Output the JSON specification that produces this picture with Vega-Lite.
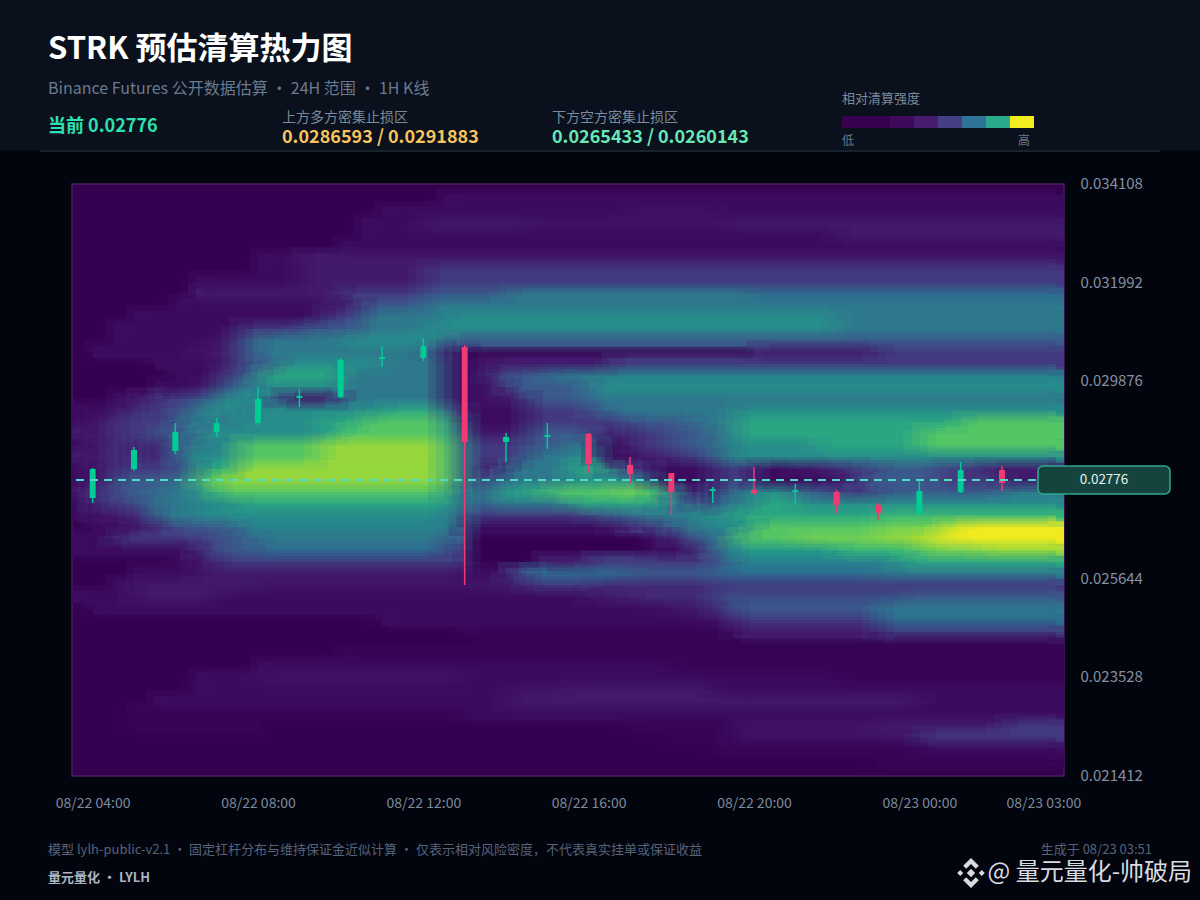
{"$schema":"https://vega.github.io/schema/vega-lite/v6.json","width":992,"height":592,"autosize":{"type":"none"},"padding":{"left":72,"top":184,"right":136,"bottom":124},"background":"#03050e","view":{"fill":"#35004f","stroke":"#43205f","strokeWidth":1.5},"config":{"font":"Noto Sans CJK SC","text":{"font":"Noto Sans CJK SC"}},"title":{"text":"STRK 预估清算热力图","subtitle":"Binance Futures 公开数据估算  ·  24H 范围  ·  1H K线","anchor":"start","frame":"group","dx":-24,"offset":-98,"fontSize":31,"fontWeight":"bold","color":"#ffffff","font":"Noto Sans CJK SC","subtitleFont":"Noto Sans CJK SC","subtitleFontSize":16,"subtitleColor":"#6b7a8f","subtitlePadding":15},"datasets":{"heat":[
{"a":8.5,"b":23.5,"p":0.03375,"v":1},
{"a":7,"b":13,"p":0.0335,"v":1},{"a":13,"b":15,"p":0.0335,"v":1.5},{"a":15,"b":23.5,"p":0.0335,"v":1},
{"a":6.5,"b":8,"p":0.03325,"v":1},{"a":8,"b":10.5,"p":0.03325,"v":2},{"a":10.5,"b":15.5,"p":0.03325,"v":1.5},{"a":15.5,"b":23.5,"p":0.03325,"v":2},
{"a":6.5,"b":18,"p":0.033,"v":1},{"a":18,"b":23.5,"p":0.033,"v":2},
{"a":6,"b":23.5,"p":0.03275,"v":1},
{"a":4,"b":5,"p":0.0325,"v":1},{"a":5,"b":23.5,"p":0.0325,"v":2},
{"a":4,"b":5,"p":0.03225,"v":1},{"a":5,"b":8,"p":0.03225,"v":2},{"a":8,"b":23.5,"p":0.03225,"v":3},
{"a":2.5,"b":5,"p":0.032,"v":1},{"a":5,"b":8,"p":0.032,"v":2},{"a":8,"b":23.5,"p":0.032,"v":3},
{"a":2.5,"b":6,"p":0.03175,"v":2},{"a":6,"b":8,"p":0.03175,"v":3},{"a":8,"b":10,"p":0.03175,"v":4},{"a":10,"b":16,"p":0.03175,"v":5},{"a":16,"b":23.5,"p":0.03175,"v":4.5},
{"a":2,"b":5.5,"p":0.0315,"v":1},{"a":5.5,"b":6.5,"p":0.0315,"v":2},{"a":6.5,"b":8,"p":0.0315,"v":4},{"a":8,"b":23.5,"p":0.0315,"v":5},
{"a":1,"b":5.5,"p":0.03125,"v":1},{"a":5.5,"b":6.5,"p":0.03125,"v":3},{"a":6.5,"b":8.5,"p":0.03125,"v":5},{"a":8.5,"b":18,"p":0.03125,"v":6},{"a":18,"b":23.5,"p":0.03125,"v":5},
{"a":0.5,"b":3.5,"p":0.031,"v":1},{"a":3.5,"b":5,"p":0.031,"v":3},{"a":5,"b":6.5,"p":0.031,"v":4},{"a":6.5,"b":8,"p":0.031,"v":5},{"a":8,"b":18,"p":0.031,"v":6},{"a":18,"b":23.5,"p":0.031,"v":5},
{"a":0.5,"b":3,"p":0.03075,"v":1},{"a":3,"b":3.5,"p":0.03075,"v":2},{"a":3.5,"b":4,"p":0.03075,"v":4},{"a":4,"b":6,"p":0.03075,"v":5},{"a":6,"b":8.5,"p":0.03075,"v":6},{"a":8.5,"b":23.5,"p":0.03075,"v":4},
{"a":0,"b":2.5,"p":0.0305,"v":1},{"a":2.5,"b":3.5,"p":0.0305,"v":2},{"a":3.5,"b":4,"p":0.0305,"v":4},{"a":4,"b":8,"p":0.0305,"v":5},{"a":8,"b":8.5,"p":0.0305,"v":4},{"a":8.5,"b":9,"p":0.0305,"v":1},{"a":16,"b":19,"p":0.0305,"v":2},{"a":19,"b":23.5,"p":0.0305,"v":3},
{"a":1.5,"b":3,"p":0.03025,"v":1},{"a":3,"b":3.5,"p":0.03025,"v":2},{"a":3.5,"b":4.5,"p":0.03025,"v":4},{"a":4.5,"b":7,"p":0.03025,"v":6},{"a":7,"b":8.5,"p":0.03025,"v":5},{"a":8.5,"b":9.5,"p":0.03025,"v":1},{"a":9.5,"b":12.5,"p":0.03025,"v":2},{"a":12.5,"b":23.5,"p":0.03025,"v":3},
{"a":2,"b":3,"p":0.03,"v":1},{"a":3,"b":3.5,"p":0.03,"v":3},{"a":3.5,"b":4,"p":0.03,"v":4},{"a":4,"b":6,"p":0.03,"v":7},{"a":6,"b":8.5,"p":0.03,"v":5},{"a":8.5,"b":9.5,"p":0.03,"v":1},{"a":9.5,"b":10,"p":0.03,"v":3},{"a":10,"b":11,"p":0.03,"v":4},{"a":11,"b":12.5,"p":0.03,"v":5},{"a":12.5,"b":23.5,"p":0.03,"v":5.5},
{"a":1.5,"b":2.5,"p":0.02975,"v":1},{"a":2.5,"b":3,"p":0.02975,"v":2},{"a":3,"b":3.5,"p":0.02975,"v":4},{"a":3.5,"b":4,"p":0.02975,"v":5},{"a":4,"b":6,"p":0.02975,"v":6},{"a":6,"b":8.5,"p":0.02975,"v":5},{"a":8.5,"b":9.5,"p":0.02975,"v":1},{"a":9.5,"b":10,"p":0.02975,"v":2},{"a":10,"b":12,"p":0.02975,"v":4},{"a":12,"b":23.5,"p":0.02975,"v":6},
{"a":0.5,"b":1,"p":0.0295,"v":1},{"a":1,"b":1.5,"p":0.0295,"v":2},{"a":1.5,"b":2.5,"p":0.0295,"v":3},{"a":2.5,"b":3,"p":0.0295,"v":4},{"a":3,"b":4,"p":0.0295,"v":6},{"a":4,"b":4.5,"p":0.0295,"v":5},{"a":4.5,"b":6,"p":0.0295,"v":2},{"a":6,"b":8.5,"p":0.0295,"v":5},{"a":8.5,"b":9.5,"p":0.0295,"v":1},{"a":9.5,"b":10.5,"p":0.0295,"v":2},{"a":10.5,"b":12,"p":0.0295,"v":4},{"a":12,"b":23.5,"p":0.0295,"v":5},
{"a":-0.5,"b":0.5,"p":0.02925,"v":1},{"a":0.5,"b":1,"p":0.02925,"v":2},{"a":1,"b":2,"p":0.02925,"v":3},{"a":2,"b":2.5,"p":0.02925,"v":4},{"a":2.5,"b":3.5,"p":0.02925,"v":6},{"a":3.5,"b":4,"p":0.02925,"v":5},{"a":4,"b":7,"p":0.02925,"v":6},{"a":7,"b":8.5,"p":0.02925,"v":7},{"a":8.5,"b":9,"p":0.02925,"v":3},{"a":9,"b":10.5,"p":0.02925,"v":1},{"a":10.5,"b":12,"p":0.02925,"v":3},{"a":12,"b":12.5,"p":0.02925,"v":4},{"a":12.5,"b":15.5,"p":0.02925,"v":5},{"a":15.5,"b":23.5,"p":0.02925,"v":6},
{"a":-0.5,"b":0,"p":0.029,"v":1},{"a":0,"b":0.5,"p":0.029,"v":2},{"a":0.5,"b":2,"p":0.029,"v":3},{"a":2,"b":3.5,"p":0.029,"v":5},{"a":3.5,"b":5.5,"p":0.029,"v":6},{"a":5.5,"b":6.5,"p":0.029,"v":7},{"a":6.5,"b":8.5,"p":0.029,"v":8},{"a":8.5,"b":9,"p":0.029,"v":5},{"a":9,"b":10.5,"p":0.029,"v":1},{"a":10.5,"b":13,"p":0.029,"v":3},{"a":13,"b":14.5,"p":0.029,"v":4},{"a":14.5,"b":15.5,"p":0.029,"v":5},{"a":15.5,"b":21,"p":0.029,"v":7},{"a":21,"b":23.5,"p":0.029,"v":8},
{"a":-0.5,"b":0.5,"p":0.02875,"v":2},{"a":0.5,"b":1.5,"p":0.02875,"v":3},{"a":1.5,"b":2.5,"p":0.02875,"v":4},{"a":2.5,"b":5.5,"p":0.02875,"v":6},{"a":5.5,"b":6,"p":0.02875,"v":7},{"a":6,"b":8.5,"p":0.02875,"v":8},{"a":8.5,"b":9,"p":0.02875,"v":6},{"a":9,"b":10.5,"p":0.02875,"v":2},{"a":10.5,"b":12,"p":0.02875,"v":4},{"a":12,"b":12.5,"p":0.02875,"v":3},{"a":12.5,"b":13,"p":0.02875,"v":2},{"a":13,"b":14,"p":0.02875,"v":3},{"a":14,"b":15,"p":0.02875,"v":4},{"a":15,"b":15.5,"p":0.02875,"v":5},{"a":15.5,"b":20,"p":0.02875,"v":7},{"a":20,"b":23.5,"p":0.02875,"v":8},
{"a":-0.5,"b":0,"p":0.0285,"v":1},{"a":0,"b":0.5,"p":0.0285,"v":2},{"a":0.5,"b":1,"p":0.0285,"v":3},{"a":1,"b":1.5,"p":0.0285,"v":2},{"a":1.5,"b":2,"p":0.0285,"v":3},{"a":2,"b":3,"p":0.0285,"v":5},{"a":3,"b":3.5,"p":0.0285,"v":6},{"a":3.5,"b":5.5,"p":0.0285,"v":8},{"a":5.5,"b":8.5,"p":0.0285,"v":9},{"a":8.5,"b":9,"p":0.0285,"v":7},{"a":9,"b":10.5,"p":0.0285,"v":3},{"a":10.5,"b":11.5,"p":0.0285,"v":4},{"a":11.5,"b":12.2,"p":0.0285,"v":5},{"a":12.2,"b":13,"p":0.0285,"v":1},{"a":13,"b":14,"p":0.0285,"v":3},{"a":14,"b":15,"p":0.0285,"v":4},{"a":15,"b":15.5,"p":0.0285,"v":5},{"a":15.5,"b":17.5,"p":0.0285,"v":6},{"a":17.5,"b":20,"p":0.0285,"v":7},{"a":20,"b":23.5,"p":0.0285,"v":8},
{"a":-0.5,"b":0.5,"p":0.02825,"v":2},{"a":0.5,"b":1,"p":0.02825,"v":3},{"a":1,"b":1.5,"p":0.02825,"v":2},{"a":1.5,"b":2,"p":0.02825,"v":3},{"a":2,"b":2.5,"p":0.02825,"v":5},{"a":2.5,"b":3.5,"p":0.02825,"v":6},{"a":3.5,"b":5.5,"p":0.02825,"v":8},{"a":5.5,"b":8.5,"p":0.02825,"v":9},{"a":8.5,"b":9,"p":0.02825,"v":7},{"a":9,"b":10.5,"p":0.02825,"v":3},{"a":10.5,"b":11.5,"p":0.02825,"v":5},{"a":11.5,"b":12.2,"p":0.02825,"v":6},{"a":12.2,"b":13,"p":0.02825,"v":1},{"a":13,"b":14,"p":0.02825,"v":2},{"a":14,"b":15,"p":0.02825,"v":3},{"a":15,"b":15.5,"p":0.02825,"v":5},{"a":15.5,"b":23.5,"p":0.02825,"v":6},
{"a":-0.5,"b":0,"p":0.028,"v":1},{"a":0,"b":0.5,"p":0.028,"v":2},{"a":0.5,"b":2,"p":0.028,"v":3},{"a":2,"b":2.5,"p":0.028,"v":4},{"a":2.5,"b":3.5,"p":0.028,"v":7},{"a":3.5,"b":8.5,"p":0.028,"v":9},{"a":8.5,"b":9,"p":0.028,"v":7},{"a":9,"b":9.5,"p":0.028,"v":3},{"a":9.5,"b":10,"p":0.028,"v":2},{"a":10,"b":11.5,"p":0.028,"v":5},{"a":11.5,"b":12.5,"p":0.028,"v":7},{"a":12.5,"b":13.5,"p":0.028,"v":3},{"a":13.5,"b":15,"p":0.028,"v":1},{"a":15,"b":16,"p":0.028,"v":3},{"a":16,"b":17,"p":0.028,"v":1},{"a":17,"b":18,"p":0.028,"v":2},{"a":18,"b":19,"p":0.028,"v":3},{"a":19,"b":20.5,"p":0.028,"v":4},{"a":20.5,"b":21.5,"p":0.028,"v":3},{"a":21.5,"b":23.5,"p":0.028,"v":2},
{"a":-0.5,"b":0,"p":0.02775,"v":1},{"a":0,"b":0.5,"p":0.02775,"v":2},{"a":0.5,"b":2,"p":0.02775,"v":4},{"a":2,"b":2.5,"p":0.02775,"v":5},{"a":2.5,"b":3,"p":0.02775,"v":8},{"a":3,"b":8.5,"p":0.02775,"v":9},{"a":8.5,"b":9,"p":0.02775,"v":7},{"a":9,"b":9.5,"p":0.02775,"v":3},{"a":9.5,"b":10,"p":0.02775,"v":4},{"a":10,"b":11.5,"p":0.02775,"v":5},{"a":11.5,"b":13.5,"p":0.02775,"v":6},{"a":13.5,"b":15,"p":0.02775,"v":1},{"a":15,"b":16,"p":0.02775,"v":3},{"a":16,"b":18,"p":0.02775,"v":1},{"a":18,"b":18.5,"p":0.02775,"v":2},{"a":18.5,"b":20.5,"p":0.02775,"v":4},{"a":20.5,"b":22,"p":0.02775,"v":3},{"a":22,"b":23.5,"p":0.02775,"v":2},
{"a":-0.5,"b":0,"p":0.0275,"v":2},{"a":0,"b":0.5,"p":0.0275,"v":3},{"a":0.5,"b":1.5,"p":0.0275,"v":4},{"a":1.5,"b":2.5,"p":0.0275,"v":5},{"a":2.5,"b":3,"p":0.0275,"v":7},{"a":3,"b":8.5,"p":0.0275,"v":8},{"a":8.5,"b":9,"p":0.0275,"v":6},{"a":9,"b":9.5,"p":0.0275,"v":4},{"a":9.5,"b":10,"p":0.0275,"v":6},{"a":10,"b":11,"p":0.0275,"v":7},{"a":11,"b":12.5,"p":0.0275,"v":8},{"a":12.5,"b":13.5,"p":0.0275,"v":8.5},{"a":13.5,"b":14,"p":0.0275,"v":7},{"a":14,"b":14.5,"p":0.0275,"v":4},{"a":14.5,"b":15,"p":0.0275,"v":1},{"a":15,"b":15.5,"p":0.0275,"v":4},{"a":15.5,"b":16,"p":0.0275,"v":5},{"a":16,"b":17,"p":0.0275,"v":6},{"a":17,"b":18,"p":0.0275,"v":4},{"a":18,"b":19,"p":0.0275,"v":3},{"a":19,"b":22,"p":0.0275,"v":4},{"a":22,"b":23.5,"p":0.0275,"v":5},
{"a":-0.5,"b":0,"p":0.02725,"v":1},{"a":0,"b":1,"p":0.02725,"v":3},{"a":1,"b":1.5,"p":0.02725,"v":4},{"a":1.5,"b":2.5,"p":0.02725,"v":5},{"a":2.5,"b":3.5,"p":0.02725,"v":6},{"a":3.5,"b":8.5,"p":0.02725,"v":7},{"a":8.5,"b":9,"p":0.02725,"v":6},{"a":9,"b":9.5,"p":0.02725,"v":4},{"a":9.5,"b":11.5,"p":0.02725,"v":5},{"a":11.5,"b":13.7,"p":0.02725,"v":7},{"a":13.7,"b":14.5,"p":0.02725,"v":5},{"a":14.5,"b":15,"p":0.02725,"v":3},{"a":15,"b":16,"p":0.02725,"v":5},{"a":16,"b":17,"p":0.02725,"v":7},{"a":17,"b":23.5,"p":0.02725,"v":6},
{"a":-0.5,"b":0,"p":0.027,"v":1},{"a":0,"b":1,"p":0.027,"v":2},{"a":1,"b":1.5,"p":0.027,"v":3},{"a":1.5,"b":2.5,"p":0.027,"v":5},{"a":2.5,"b":8.5,"p":0.027,"v":6},{"a":8.5,"b":9,"p":0.027,"v":5},{"a":9,"b":12,"p":0.027,"v":3},{"a":12,"b":13,"p":0.027,"v":4},{"a":13,"b":14.5,"p":0.027,"v":5},{"a":14.5,"b":15.5,"p":0.027,"v":6},{"a":15.5,"b":19,"p":0.027,"v":7},{"a":19,"b":23.5,"p":0.027,"v":7.5},
{"a":0,"b":1,"p":0.02675,"v":1},{"a":1,"b":1.5,"p":0.02675,"v":2},{"a":1.5,"b":2,"p":0.02675,"v":3},{"a":2,"b":3.5,"p":0.02675,"v":4},{"a":3.5,"b":8.5,"p":0.02675,"v":5.5},{"a":8.5,"b":9,"p":0.02675,"v":5},{"a":9,"b":12.5,"p":0.02675,"v":1},{"a":12.5,"b":13,"p":0.02675,"v":2},{"a":13,"b":14,"p":0.02675,"v":3},{"a":14,"b":15,"p":0.02675,"v":5},{"a":15,"b":16,"p":0.02675,"v":6},{"a":16,"b":19,"p":0.02675,"v":8},{"a":19,"b":20.5,"p":0.02675,"v":8.5},{"a":20.5,"b":21,"p":0.02675,"v":9.5},{"a":21,"b":23.5,"p":0.02675,"v":10},
{"a":-0.5,"b":0.5,"p":0.0265,"v":1},{"a":0.5,"b":3,"p":0.0265,"v":3},{"a":3,"b":4,"p":0.0265,"v":4},{"a":4,"b":8.5,"p":0.0265,"v":5},{"a":8.5,"b":9,"p":0.0265,"v":4},{"a":13.5,"b":14,"p":0.0265,"v":1},{"a":14,"b":14.5,"p":0.0265,"v":3},{"a":14.5,"b":15,"p":0.0265,"v":4},{"a":15,"b":15.5,"p":0.0265,"v":5},{"a":15.5,"b":17,"p":0.0265,"v":8},{"a":17,"b":19,"p":0.0265,"v":8.5},{"a":19,"b":20,"p":0.0265,"v":9},{"a":20,"b":20.5,"p":0.0265,"v":9.5},{"a":20.5,"b":23.5,"p":0.0265,"v":10},
{"a":-0.5,"b":2.5,"p":0.02625,"v":1},{"a":2.5,"b":3,"p":0.02625,"v":3},{"a":3,"b":4,"p":0.02625,"v":4},{"a":4,"b":8.5,"p":0.02625,"v":4.5},{"a":8.5,"b":9,"p":0.02625,"v":3},{"a":13.5,"b":14.5,"p":0.02625,"v":1},{"a":14.5,"b":15,"p":0.02625,"v":3},{"a":15,"b":15.5,"p":0.02625,"v":5},{"a":15.5,"b":18,"p":0.02625,"v":6.5},{"a":18,"b":20,"p":0.02625,"v":7.5},{"a":20,"b":21.5,"p":0.02625,"v":8.5},{"a":21.5,"b":23.5,"p":0.02625,"v":9},
{"a":2,"b":2.5,"p":0.026,"v":1},{"a":2.5,"b":3,"p":0.026,"v":2},{"a":3,"b":9,"p":0.026,"v":3},{"a":10.8,"b":12,"p":0.026,"v":2},{"a":12,"b":15,"p":0.026,"v":3},{"a":15,"b":15.5,"p":0.026,"v":4},{"a":15.5,"b":19.5,"p":0.026,"v":5.5},{"a":19.5,"b":23.5,"p":0.026,"v":7},
{"a":1,"b":2.5,"p":0.02575,"v":1},{"a":2.5,"b":9,"p":0.02575,"v":2},{"a":9,"b":10,"p":0.02575,"v":1},{"a":10,"b":10.5,"p":0.02575,"v":3},{"a":10.5,"b":13,"p":0.02575,"v":4.5},{"a":13,"b":15,"p":0.02575,"v":4},{"a":15,"b":19,"p":0.02575,"v":4.5},{"a":19,"b":23.5,"p":0.02575,"v":5},
{"a":0.5,"b":1,"p":0.0255,"v":1},{"a":1,"b":4,"p":0.0255,"v":2},{"a":4,"b":9.5,"p":0.0255,"v":1.5},{"a":9.5,"b":10.5,"p":0.0255,"v":2},{"a":10.5,"b":12,"p":0.0255,"v":3},{"a":12,"b":15,"p":0.0255,"v":2.5},{"a":15,"b":23.5,"p":0.0255,"v":3},
{"a":-0.5,"b":1,"p":0.02525,"v":1},{"a":1,"b":3,"p":0.02525,"v":2},{"a":3,"b":12,"p":0.02525,"v":1},{"a":12,"b":13,"p":0.02525,"v":2},{"a":13,"b":15,"p":0.02525,"v":2.5},{"a":15,"b":19.5,"p":0.02525,"v":3.5},{"a":19.5,"b":23.5,"p":0.02525,"v":4},
{"a":0,"b":14,"p":0.025,"v":1},{"a":14,"b":15,"p":0.025,"v":2},{"a":15,"b":15.5,"p":0.025,"v":3},{"a":15.5,"b":19,"p":0.025,"v":4},{"a":19,"b":23.5,"p":0.025,"v":5},
{"a":7,"b":15,"p":0.02475,"v":1},{"a":15,"b":15.5,"p":0.02475,"v":2},{"a":15.5,"b":19,"p":0.02475,"v":3},{"a":19,"b":23.5,"p":0.02475,"v":4.5},
{"a":9,"b":15.5,"p":0.0245,"v":0.5},{"a":15.5,"b":19,"p":0.0245,"v":2},{"a":19,"b":23.5,"p":0.0245,"v":3},
{"a":19,"b":23.5,"p":0.02425,"v":0.5},
{"a":6,"b":23.5,"p":0.024,"v":0.5},
{"a":4,"b":14,"p":0.02375,"v":1},{"a":14,"b":23.5,"p":0.02375,"v":0.5},
{"a":2.5,"b":4,"p":0.0235,"v":1},{"a":4,"b":9,"p":0.0235,"v":1.5},{"a":9,"b":18,"p":0.0235,"v":1},{"a":18,"b":23.5,"p":0.0235,"v":0.5},
{"a":2.5,"b":10,"p":0.02325,"v":1},{"a":10,"b":11.5,"p":0.02325,"v":1.5},{"a":11.5,"b":15,"p":0.02325,"v":2},{"a":15,"b":23.5,"p":0.02325,"v":1},
{"a":1.5,"b":10,"p":0.023,"v":1},{"a":10,"b":15.5,"p":0.023,"v":2},{"a":15.5,"b":20,"p":0.023,"v":2},{"a":20,"b":23.5,"p":0.023,"v":1},
{"a":1,"b":9,"p":0.02275,"v":0.5},{"a":9,"b":23.5,"p":0.02275,"v":1},
{"a":1,"b":4,"p":0.0225,"v":0.5},{"a":13,"b":15.5,"p":0.0225,"v":0.5},{"a":15.5,"b":19,"p":0.0225,"v":1.5},{"a":19,"b":22,"p":0.0225,"v":2},{"a":22,"b":23.5,"p":0.0225,"v":3},
{"a":14,"b":15.5,"p":0.02225,"v":0.5},{"a":15.5,"b":20,"p":0.02225,"v":1.5},{"a":20,"b":23.5,"p":0.02225,"v":3},
{"a":15,"b":20,"p":0.022,"v":0.5},{"a":20,"b":23.5,"p":0.022,"v":1},
{"a":19,"b":23.5,"p":0.02175,"v":0.5}
],"candles":[
{"h":0,"o":0.027374,"c":0.027996,"hi":0.028017,"lo":0.027267},
{"h":1,"o":0.027996,"c":0.028403,"hi":0.028468,"lo":0.027953},
{"h":2,"o":0.028382,"c":0.028789,"hi":0.028982,"lo":0.028318},
{"h":3,"o":0.028789,"c":0.028982,"hi":0.02909,"lo":0.028682},
{"h":4,"o":0.028982,"c":0.029497,"hi":0.029754,"lo":0.02894},
{"h":5,"o":0.029519,"c":0.029561,"hi":0.029712,"lo":0.029326},
{"h":6,"o":0.02954,"c":0.030334,"hi":0.030376,"lo":0.029519},
{"h":7,"o":0.030355,"c":0.030398,"hi":0.030634,"lo":0.030183},
{"h":8,"o":0.030376,"c":0.030634,"hi":0.030805,"lo":0.030312},
{"h":9,"o":0.030612,"c":0.028575,"hi":0.030655,"lo":0.025508},
{"h":10,"o":0.028575,"c":0.028682,"hi":0.028768,"lo":0.028146},
{"h":11,"o":0.028682,"c":0.028725,"hi":0.028982,"lo":0.028425},
{"h":12,"o":0.028747,"c":0.028103,"hi":0.028768,"lo":0.02791},
{"h":13,"o":0.028082,"c":0.027889,"hi":0.028253,"lo":0.027674},
{"h":14,"o":0.02791,"c":0.027503,"hi":0.02791,"lo":0.027009},
{"h":15,"o":0.027524,"c":0.027567,"hi":0.02761,"lo":0.027267},
{"h":16,"o":0.027546,"c":0.027481,"hi":0.028039,"lo":0.027438},
{"h":17,"o":0.027503,"c":0.027546,"hi":0.027674,"lo":0.027245},
{"h":18,"o":0.027503,"c":0.027224,"hi":0.027546,"lo":0.027052},
{"h":19,"o":0.027224,"c":0.027052,"hi":0.027267,"lo":0.026902},
{"h":20,"o":0.027031,"c":0.027524,"hi":0.02776,"lo":0.027009},
{"h":21,"o":0.027503,"c":0.027974,"hi":0.028146,"lo":0.027481},
{"h":22,"o":0.027974,"c":0.027696,"hi":0.02806,"lo":0.027524},
{"h":23,"o":0.02772,"c":0.02776,"hi":0.0278,"lo":0.0277}
]},"layer":[
{"data":{"values":[{"part":"header"}]},"mark":{"type":"rect","x":-72,"x2":1128,"y":-184,"y2":-34,"fill":"#0a111c"},"encoding":{}},
{"data":{"values":[{"part":"divider"}]},"mark":{"type":"rect","x":-32,"x2":1088,"y":-34,"y2":-32,"fill":"#18222e"},"encoding":{}},
{"data":{"values":[{"level":"1-2"}]},"mark":{"type":"rect","x":770,"x2":818,"y":-68,"y2":-56,"fill":"#38004f"},"encoding":{}},
{"data":{"values":[{"level":"3"}]},"mark":{"type":"rect","x":818,"x2":842,"y":-68,"y2":-56,"fill":"#3f0a5c"},"encoding":{}},
{"data":{"values":[{"level":"4"}]},"mark":{"type":"rect","x":842,"x2":866,"y":-68,"y2":-56,"fill":"#451c6e"},"encoding":{}},
{"data":{"values":[{"level":"5"}]},"mark":{"type":"rect","x":866,"x2":890,"y":-68,"y2":-56,"fill":"#453f86"},"encoding":{}},
{"data":{"values":[{"level":"6"}]},"mark":{"type":"rect","x":890,"x2":914,"y":-68,"y2":-56,"fill":"#2f7396"},"encoding":{}},
{"data":{"values":[{"level":"7"}]},"mark":{"type":"rect","x":914,"x2":938,"y":-68,"y2":-56,"fill":"#2aaa8a"},"encoding":{}},
{"data":{"values":[{"level":"8"}]},"mark":{"type":"rect","x":938,"x2":962,"y":-68,"y2":-56,"fill":"#f3ec1f"},"encoding":{}},
{"data":{"name":"heat"},"mark":{"type":"rect","height":11.7,"strokeWidth":0.4,"clip":true},"encoding":{
"x":{"field":"a","type":"quantitative","scale":{"domain":[-0.5,23.5],"nice":false,"zero":false},"axis":{"values":[0,4,8,12,16,20,23],"title":null,"grid":false,"domain":false,"ticks":false,"labelFontSize":14,"labelColor":"#7d8a9c","labelPadding":20,"labelFont":"Noto Sans CJK SC","labelOverlap":false,"labelFlush":false,"labelExpr":"datum.value==0?'08/22 04:00':datum.value==4?'08/22 08:00':datum.value==8?'08/22 12:00':datum.value==12?'08/22 16:00':datum.value==16?'08/22 20:00':datum.value==20?'08/23 00:00':'08/23 03:00'"}},
"x2":{"field":"b"},
"y":{"field":"p","type":"quantitative","scale":{"domain":[0.021412,0.034108],"nice":false,"zero":false},"axis":{"orient":"right","values":[0.021412,0.023528,0.025644,0.02776,0.029876,0.031992,0.034108],"title":null,"grid":false,"domain":false,"ticks":false,"format":".6f","labelFontSize":15,"labelColor":"#8491a3","labelPadding":16,"labelOffset":-0.5,"labelFont":"Noto Sans CJK SC","labelOverlap":false,"labelFlush":false,"labelExpr":"datum.value==0.02776?'':datum.label"}},
"fill":{"field":"v","type":"quantitative","legend":null,"scale":{"domain":[0,1,2,3,4,5,6,7,8,9,10],"range":["#35004f","#3d0c60","#431a6c","#433a80","#3b5c8c","#2e7a8e","#288e8b","#2ba884","#55c666","#96d83c","#f1ea20"]}},
"stroke":{"field":"v","type":"quantitative","legend":null,"scale":{"domain":[0,1,2,3,4,5,6,7,8,9,10],"range":["#35004f","#3d0c60","#431a6c","#433a80","#3b5c8c","#2e7a8e","#288e8b","#2ba884","#55c666","#96d83c","#f1ea20"]}}}},
{"data":{"name":"heat"},"mark":{"type":"rect","height":11.7,"opacity":0.5,"xOffset":-8,"x2Offset":-8,"yOffset":-5.8,"clip":true},"encoding":{"x":{"field":"a","type":"quantitative"},"x2":{"field":"b"},"y":{"field":"p","type":"quantitative"},"fill":{"field":"v","type":"quantitative","legend":null,"scale":{"domain":[0,1,2,3,4,5,6,7,8,9,10],"range":["#35004f","#3d0c60","#431a6c","#433a80","#3b5c8c","#2e7a8e","#288e8b","#2ba884","#55c666","#96d83c","#f1ea20"]}}}},
{"data":{"name":"heat"},"mark":{"type":"rect","height":11.7,"opacity":0.33,"xOffset":8,"x2Offset":8,"yOffset":5.8,"clip":true},"encoding":{"x":{"field":"a","type":"quantitative"},"x2":{"field":"b"},"y":{"field":"p","type":"quantitative"},"fill":{"field":"v","type":"quantitative","legend":null,"scale":{"domain":[0,1,2,3,4,5,6,7,8,9,10],"range":["#35004f","#3d0c60","#431a6c","#433a80","#3b5c8c","#2e7a8e","#288e8b","#2ba884","#55c666","#96d83c","#f1ea20"]}}}},
{"data":{"name":"heat"},"mark":{"type":"rect","height":11.7,"opacity":0.25,"xOffset":-16,"x2Offset":-16,"yOffset":3,"clip":true},"encoding":{"x":{"field":"a","type":"quantitative"},"x2":{"field":"b"},"y":{"field":"p","type":"quantitative"},"fill":{"field":"v","type":"quantitative","legend":null,"scale":{"domain":[0,1,2,3,4,5,6,7,8,9,10],"range":["#35004f","#3d0c60","#431a6c","#433a80","#3b5c8c","#2e7a8e","#288e8b","#2ba884","#55c666","#96d83c","#f1ea20"]}}}},
{"data":{"name":"heat"},"mark":{"type":"rect","height":11.7,"opacity":0.2,"xOffset":16,"x2Offset":16,"yOffset":-3,"clip":true},"encoding":{"x":{"field":"a","type":"quantitative"},"x2":{"field":"b"},"y":{"field":"p","type":"quantitative"},"fill":{"field":"v","type":"quantitative","legend":null,"scale":{"domain":[0,1,2,3,4,5,6,7,8,9,10],"range":["#35004f","#3d0c60","#431a6c","#433a80","#3b5c8c","#2e7a8e","#288e8b","#2ba884","#55c666","#96d83c","#f1ea20"]}}}},
{"data":{"name":"candles"},"mark":{"type":"rule","strokeWidth":1.5},"encoding":{"x":{"field":"h","type":"quantitative"},"y":{"field":"lo","type":"quantitative"},"y2":{"field":"hi"},"color":{"condition":{"test":"datum.c>=datum.o","value":"#00c896"},"value":"#ef3a72"}}},
{"data":{"name":"candles"},"mark":{"type":"rect","width":6},"encoding":{"x":{"field":"h","type":"quantitative"},"y":{"field":"o","type":"quantitative"},"y2":{"field":"c"},"color":{"condition":{"test":"datum.c>=datum.o","value":"#00cc96"},"value":"#ef3a72"}}},
{"data":{"values":[{"current":0.02776}]},"mark":{"type":"rule","stroke":"#4edcc5","strokeWidth":2,"strokeDash":[8,6]},"encoding":{"y":{"field":"current","type":"quantitative"}}},
{"data":{"values":[{"current":0.02776}]},"mark":{"type":"rect","x":966,"x2":1098,"height":28,"fill":"#15443f","stroke":"#2fa98f","strokeWidth":1.5,"cornerRadius":5},"encoding":{"y":{"field":"current","type":"quantitative"}}},
{"data":{"values":[{"current":0.02776,"label":"0.02776"}]},"mark":{"type":"text","x":1032,"font":"Noto Sans CJK SC","fontSize":13.5,"fill":"#e6f0ee","align":"center","baseline":"middle"},"encoding":{"y":{"field":"current","type":"quantitative"},"text":{"field":"label"}}},
{"data":{"values":[{"label":"当前 0.02776"}]},"mark":{"type":"text","x":-24,"y":-57,"font":"Noto Sans CJK SC","fontSize":18,"fontWeight":"bold","fill":"#2de0b4","align":"left","baseline":"middle"},"encoding":{"text":{"field":"label"}}},
{"data":{"values":[{"label":"上方多方密集止损区"}]},"mark":{"type":"text","x":210,"y":-66,"font":"Noto Sans CJK SC","fontSize":14,"fill":"#7d8a9c","align":"left","baseline":"middle"},"encoding":{"text":{"field":"label"}}},
{"data":{"values":[{"label":"0.0286593 / 0.0291883"}]},"mark":{"type":"text","x":210,"y":-46,"font":"Noto Sans CJK SC","fontSize":18,"fontWeight":"bold","fill":"#f7c45e","align":"left","baseline":"middle"},"encoding":{"text":{"field":"label"}}},
{"data":{"values":[{"label":"下方空方密集止损区"}]},"mark":{"type":"text","x":480,"y":-66,"font":"Noto Sans CJK SC","fontSize":14,"fill":"#7d8a9c","align":"left","baseline":"middle"},"encoding":{"text":{"field":"label"}}},
{"data":{"values":[{"label":"0.0265433 / 0.0260143"}]},"mark":{"type":"text","x":480,"y":-46,"font":"Noto Sans CJK SC","fontSize":18,"fontWeight":"bold","fill":"#67e8b6","align":"left","baseline":"middle"},"encoding":{"text":{"field":"label"}}},
{"data":{"values":[{"label":"相对清算强度"}]},"mark":{"type":"text","x":770,"y":-85,"font":"Noto Sans CJK SC","fontSize":13,"fill":"#7d8a9c","align":"left","baseline":"middle"},"encoding":{"text":{"field":"label"}}},
{"data":{"values":[{"label":"低"}]},"mark":{"type":"text","x":770,"y":-43,"font":"Noto Sans CJK SC","fontSize":12,"fill":"#6b7a8f","align":"left","baseline":"middle"},"encoding":{"text":{"field":"label"}}},
{"data":{"values":[{"label":"高"}]},"mark":{"type":"text","x":946,"y":-43,"font":"Noto Sans CJK SC","fontSize":12,"fill":"#6b7a8f","align":"left","baseline":"middle"},"encoding":{"text":{"field":"label"}}},
{"data":{"values":[{"label":"模型 lylh-public-v2.1  ·  固定杠杆分布与维持保证金近似计算  ·  仅表示相对风险密度，不代表真实挂单或保证收益"}]},"mark":{"type":"text","x":-24,"y":666,"font":"Noto Sans CJK SC","fontSize":13,"fill":"#56637a","align":"left","baseline":"middle"},"encoding":{"text":{"field":"label"}}},
{"data":{"values":[{"label":"生成于 08/23 03:51"}]},"mark":{"type":"text","x":1080,"y":666,"font":"Noto Sans CJK SC","fontSize":13,"fill":"#56637a","align":"right","baseline":"middle"},"encoding":{"text":{"field":"label"}}},
{"data":{"values":[{"label":"量元量化  ·  LYLH"}]},"mark":{"type":"text","x":-24,"y":694,"font":"Noto Sans CJK SC","fontSize":13,"fontWeight":"bold","fill":"#a9b4c2","align":"left","baseline":"middle"},"encoding":{"text":{"field":"label"}}},
{"data":{"values":[{"label":"@ 量元量化-帅破局"}]},"mark":{"type":"text","x":1120,"y":689,"font":"Noto Sans CJK SC","fontSize":24,"fill":"#d8dbe0","align":"right","baseline":"middle"},"encoding":{"text":{"field":"label"}}},
{"data":{"values":[{"label":"logo"}]},"mark":{"type":"point","x":899,"y":689,"size":900,"filled":true,"opacity":1,"fill":"#d8dbe0","shape":"M0 -0.28L0.28 0L0 0.28L-0.28 0ZM-0.72 -0.2L-0.52 0L-0.72 0.2L-0.92 0ZM0.72 -0.2L0.92 0L0.72 0.2L0.52 0ZM0 -1L0.52 -0.48L0.32 -0.28L0 -0.6L-0.32 -0.28L-0.52 -0.48ZM0 1L0.52 0.48L0.32 0.28L0 0.6L-0.32 0.28L-0.52 0.48Z"},"encoding":{}}
]}
